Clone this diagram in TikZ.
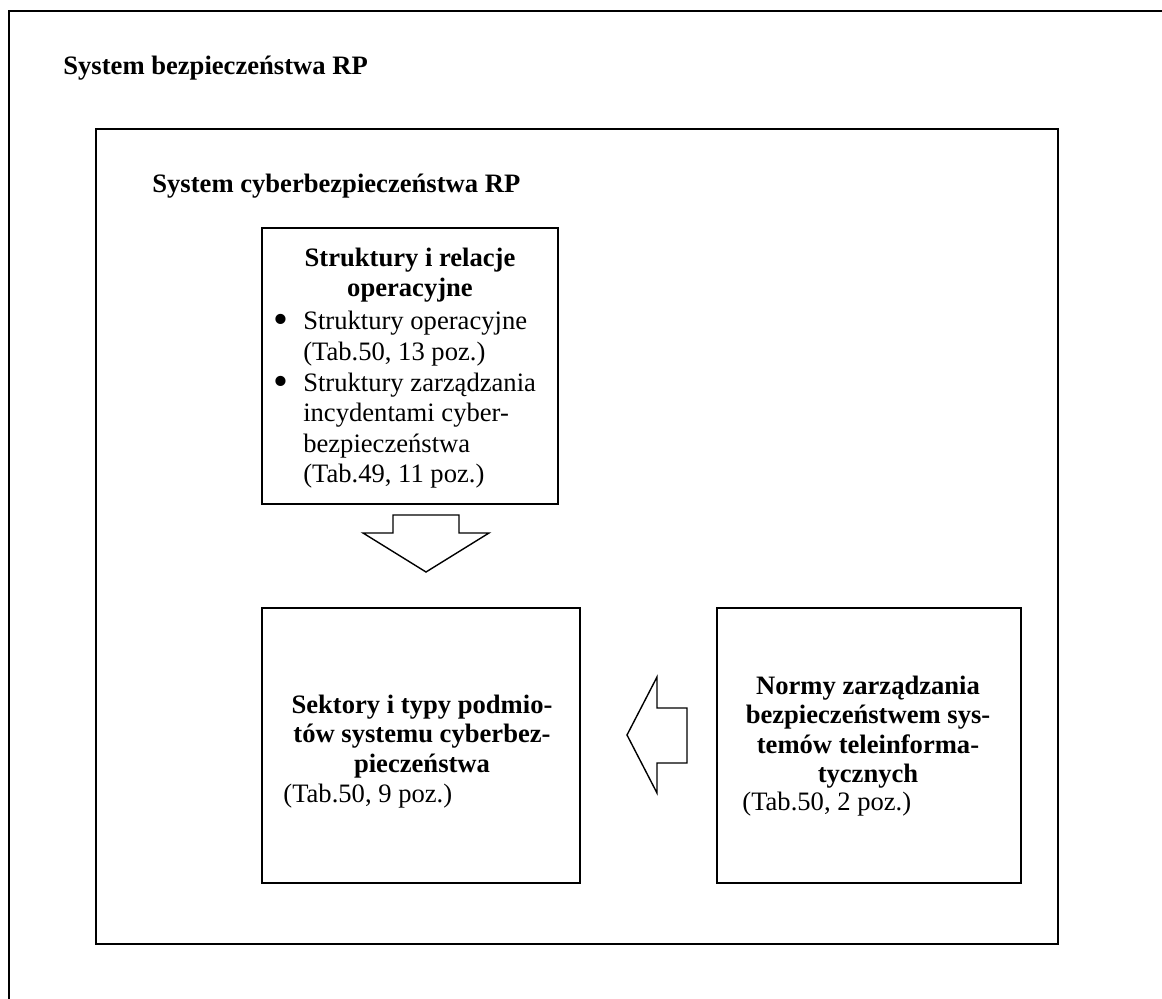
\documentclass[tikz,border=0pt]{standalone}
\usepackage{graphicx}
\usepackage{fontspec}
\setmainfont{Liberation Serif}
\newcommand{\fsz}[1]{\fontsize{13.3pt}{#1}\selectfont}
\newcommand{\bigbul}{\raisebox{-2pt}{\scalebox{1.6}{\textbullet}}}
\begin{document}
\begin{tikzpicture}[x=0.5pt,y=-0.5pt,
  outerline/.style={line width=1pt, line join=miter},
  frame/.style={draw, line width=1pt, inner sep=0pt},
  lbl/.style={inner sep=0pt, font=\fsz{14.8pt}\bfseries},
  txt/.style={inner sep=0pt, font=\fsz{15pt}},
  blockarrow/.style={draw, line width=0.7pt, fill=white, line join=miter}]
\useasboundingbox (0,0) rectangle (1162,999);
% outer system (only top and left edges visible)
\draw[outerline] (1162,11) -- (9,11) -- (9,999);
\node[lbl, anchor=base west] (t1) at (63,75) {System bezpieczeństwa RP};
% cyber system frame
\node[frame, minimum width=481pt, minimum height=407.5pt] (cyber) at (577,536.5) {};
\node[lbl, anchor=base west] (t2) at (152,193) {System cyberbezpieczeństwa RP};
% operational structures
\node[frame, minimum width=148pt, minimum height=138pt] (ops) at (410,366) {};
\node[lbl, font=\fsz{15pt}\bfseries, anchor=base] (opsT) at (410,267)
  {\begin{tabular}[t]{@{}c@{}}Struktury i relacje\\operacyjne\end{tabular}};
\node[txt, font=\fsz{15.3pt}, anchor=base west] (opsL) at (273,330)
  {\begin{tabular}[t]{@{}l@{\hspace{7.5pt}}l@{}}
   \bigbul & Struktury operacyjne\\
           & (Tab.50, 13 poz.)\\
   \bigbul & Struktury zarządzania\\
           & incydentami cyber-\\
           & bezpieczeństwa\\
           & (Tab.49, 11 poz.)
   \end{tabular}};
% sectors
\node[frame, minimum width=159pt, minimum height=137.5pt] (sec) at (421,745.5) {};
\node[lbl, anchor=base] (secT) at (422,713)
  {\begin{tabular}[t]{@{}c@{}}Sektory i typy podmio-\\tów systemu cyberbez-\\pieczeństwa\end{tabular}};
\node[txt, anchor=base west] (secR) at (283,802) {(Tab.50, 9 poz.)};
% norms
\node[frame, minimum width=152pt, minimum height=137.5pt] (norm) at (869,745.5) {};
\node[lbl, anchor=base] (normT) at (868,694)
  {\begin{tabular}[t]{@{}c@{}}Normy zarządzania\\bezpieczeństwem sys-\\temów teleinforma-\\tycznych\end{tabular}};
\node[txt, anchor=base west] (normR) at (742,810) {(Tab.50, 2 poz.)};
% block arrows
\draw[blockarrow] (393,515) -- (459,515) -- (459,533) -- (489,533) -- (426,572)
  -- (363,533) -- (393,533) -- cycle;
\draw[blockarrow] (687,708) -- (657,708) -- (657,677) -- (627,735) -- (657,793)
  -- (657,763) -- (687,763) -- cycle;
\end{tikzpicture}
\end{document}
